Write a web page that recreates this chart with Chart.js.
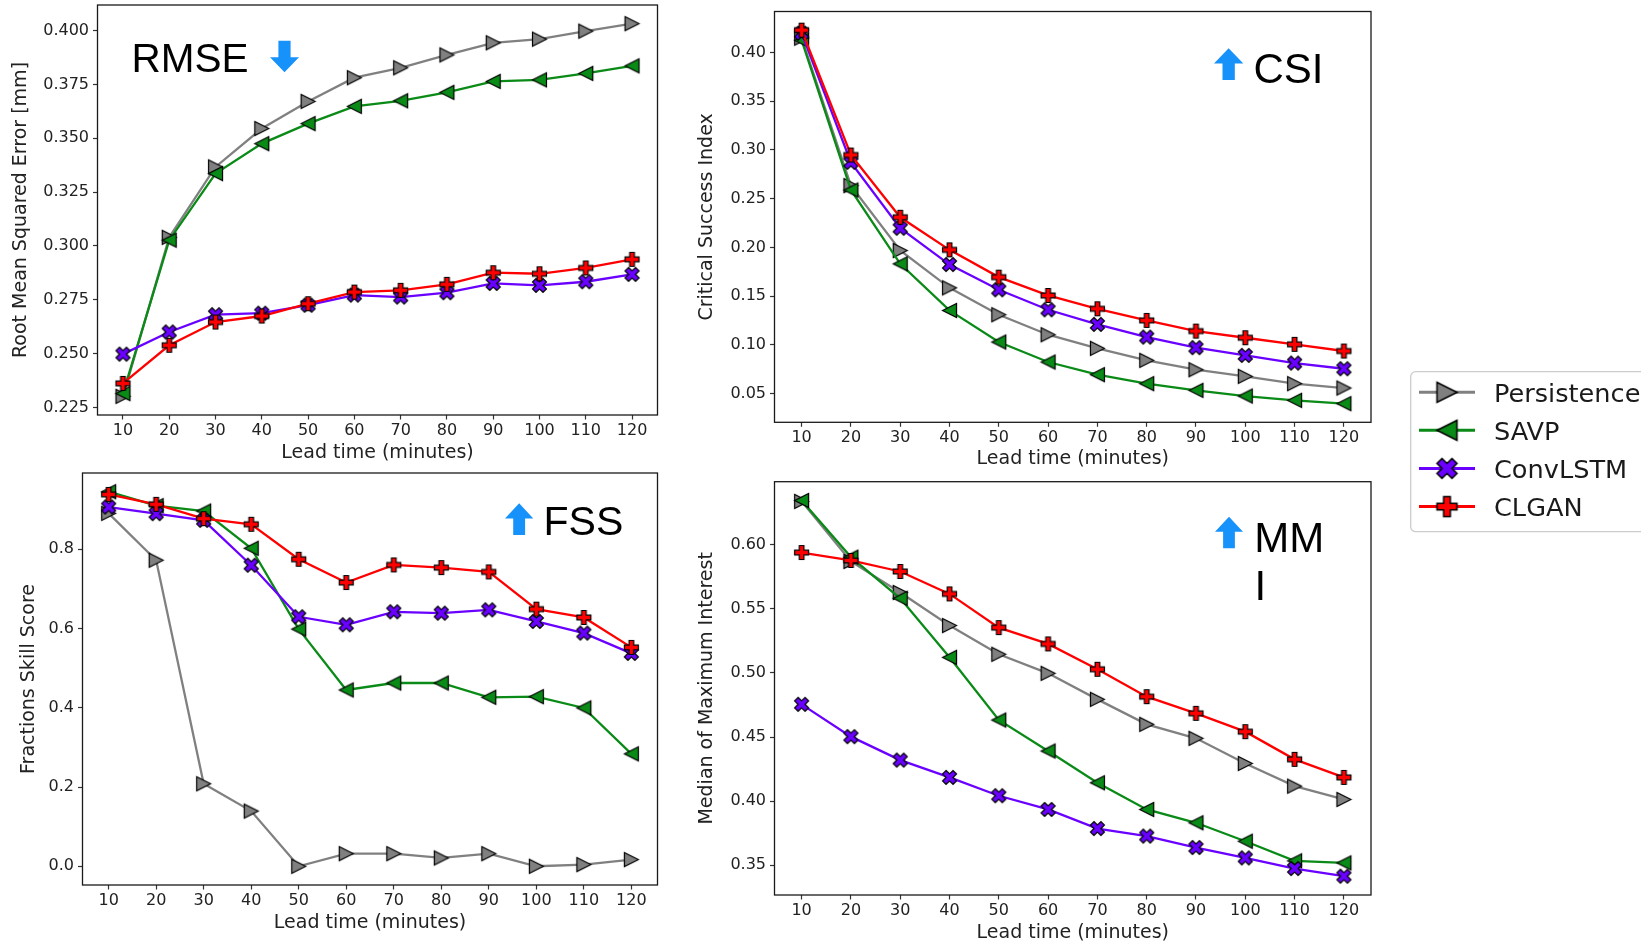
<!DOCTYPE html>
<html>
<head>
<meta charset="utf-8">
<script src="https://cdn.jsdelivr.net/npm/chart.js@4.4.1/dist/chart.umd.min.js"></script>
<style>
  html, body { margin: 0; padding: 0; background: #fff; width: 1641px; height: 946px; overflow: hidden; }
  canvas { position: absolute; }
</style>
</head>
<body>
<canvas id="rmse"></canvas>
<canvas id="csi"></canvas>
<canvas id="fss"></canvas>
<canvas id="mmi"></canvas>
<canvas id="legend"></canvas>
<script>
// ---- data ---------------------------------------------------------------
const leadTimes = [10, 20, 30, 40, 50, 60, 70, 80, 90, 100, 110, 120];
const modelNames = ['Persistence', 'SAVP', 'ConvLSTM', 'CLGAN'];

const rmsePersistence = [0.2302, 0.3040, 0.3367, 0.3545, 0.3671, 0.3781, 0.3827, 0.3887, 0.3943, 0.3960, 0.3997, 0.4032];
const rmseSAVP        = [0.2315, 0.3027, 0.3336, 0.3475, 0.3568, 0.3648, 0.3674, 0.3713, 0.3764, 0.3771, 0.3801, 0.3836];
const rmseConvLSTM    = [0.2498, 0.2601, 0.2681, 0.2688, 0.2725, 0.2772, 0.2763, 0.2783, 0.2826, 0.2817, 0.2834, 0.2868];
const rmseCLGAN       = [0.2362, 0.2539, 0.2647, 0.2675, 0.2732, 0.2786, 0.2794, 0.2822, 0.2876, 0.2871, 0.2898, 0.2938];

const csiPersistence = [0.4147, 0.2634, 0.1968, 0.1585, 0.1309, 0.1104, 0.0964, 0.0841, 0.0745, 0.0677, 0.0602, 0.0557];
const csiSAVP        = [0.4126, 0.2589, 0.1831, 0.1353, 0.1029, 0.0824, 0.0694, 0.0602, 0.0533, 0.0475, 0.0431, 0.0397];
const csiConvLSTM    = [0.4198, 0.2873, 0.2197, 0.1824, 0.1565, 0.1360, 0.1210, 0.1080, 0.0971, 0.0892, 0.0813, 0.0755];
const csiCLGAN       = [0.4229, 0.2948, 0.2309, 0.1975, 0.1695, 0.1507, 0.1370, 0.1251, 0.1141, 0.1073, 0.1005, 0.0937];

const fssPersistence = [0.8907, 0.7723, 0.2082, 0.1393, 0.0000, 0.0319, 0.0319, 0.0210, 0.0319, 0.0000, 0.0042, 0.0168];
const fssSAVP        = [0.9452, 0.9100, 0.8965, 0.8025, 0.5985, 0.4449, 0.4625, 0.4625, 0.4264, 0.4281, 0.3996, 0.2837];
const fssConvLSTM    = [0.9066, 0.8898, 0.8730, 0.7597, 0.6296, 0.6094, 0.6422, 0.6388, 0.6472, 0.6178, 0.5885, 0.5372];
const fssCLGAN       = [0.9385, 0.9133, 0.8772, 0.8630, 0.7748, 0.7161, 0.7605, 0.7538, 0.7429, 0.6489, 0.6279, 0.5524];

const mmiPersistence = [0.6339, 0.5870, 0.5628, 0.5370, 0.5146, 0.4997, 0.4794, 0.4599, 0.4490, 0.4294, 0.4117, 0.4013];
const mmiSAVP        = [0.6346, 0.5904, 0.5583, 0.5122, 0.4633, 0.4391, 0.4143, 0.3935, 0.3831, 0.3687, 0.3534, 0.3518];
const mmiConvLSTM    = [0.4755, 0.4503, 0.4320, 0.4185, 0.4042, 0.3935, 0.3786, 0.3727, 0.3638, 0.3557, 0.3474, 0.3414];
const mmiCLGAN       = [0.5940, 0.5878, 0.5792, 0.5617, 0.5354, 0.5227, 0.5029, 0.4815, 0.4685, 0.4542, 0.4326, 0.4185];

const rmseTicks = [0.225, 0.250, 0.275, 0.300, 0.325, 0.350, 0.375, 0.400];
const csiTicks  = [0.05, 0.10, 0.15, 0.20, 0.25, 0.30, 0.35, 0.40];
const fssTicks  = [0.0, 0.2, 0.4, 0.6, 0.8];
const mmiTicks  = [0.35, 0.40, 0.45, 0.50, 0.55, 0.60];

const xAxisTitle = 'Lead time (minutes)';

// ---- styling ------------------------------------------------------------
const axisFont = "'DejaVu Sans', 'Liberation Sans', sans-serif";
const noteFont = "'Liberation Sans', Arial, sans-serif";
const arrowBlue = '#1892fb';

const modelStyle = {
  Persistence: { color: '#808080', shape: 'tri-right' },
  SAVP:        { color: '#0a8a16', shape: 'tri-left' },
  ConvLSTM:    { color: '#6a00ff', shape: 'x' },
  CLGAN:       { color: '#ff0000', shape: 'plus' }
};

// filled marker outlines (unit size), modelled on the usual plotting markers
function markerPoints(shape) {
  switch (shape) {
    case 'tri-right': return [[0.5, 0], [-0.5, 0.5], [-0.5, -0.5]];
    case 'tri-left':  return [[-0.5, 0], [0.5, -0.5], [0.5, 0.5]];
    case 'x': return [[-1,-2],[0,-1],[1,-2],[2,-1],[1,0],[2,1],[1,2],[0,1],[-1,2],[-2,1],[-1,0],[-2,-1]]
                 .map(([a, b]) => [a / 4, b / 4]);
    case 'plus': return [[-1,-3],[1,-3],[1,-1],[3,-1],[3,1],[1,1],[1,3],[-1,3],[-1,1],[-3,1],[-3,-1],[-1,-1]]
                 .map(([a, b]) => [a / 6, b / 6]);
  }
}

function makeMarker(shape, size, fill, edge) {
  const dim = Math.ceil(size + 2 * edge + 4);
  const c = document.createElement('canvas');
  c.width = dim; c.height = dim;
  const g = c.getContext('2d');
  g.translate(dim / 2, dim / 2);
  g.beginPath();
  markerPoints(shape).forEach(([a, b], i) => i ? g.lineTo(a * size, b * size) : g.moveTo(a * size, b * size));
  g.closePath();
  g.fillStyle = fill;
  g.fill();
  g.lineWidth = edge;
  g.lineJoin = 'miter';
  g.strokeStyle = '#000';
  g.stroke();
  return c;
}

const plotMarkers = {}, legendMarkers = {};
modelNames.forEach(m => {
  plotMarkers[m] = makeMarker(modelStyle[m].shape, 14, modelStyle[m].color, 1.2);
  legendMarkers[m] = makeMarker(modelStyle[m].shape, 20, modelStyle[m].color, 1.5);
});

function drawArrow(ctx, x, y, w, h, dir) {
  const cx = x + w / 2, sw = w * 0.42, hh = h * 0.48;
  ctx.beginPath();
  if (dir === 'up') {
    ctx.moveTo(cx, y); ctx.lineTo(x + w, y + hh); ctx.lineTo(cx + sw / 2, y + hh);
    ctx.lineTo(cx + sw / 2, y + h); ctx.lineTo(cx - sw / 2, y + h); ctx.lineTo(cx - sw / 2, y + hh);
    ctx.lineTo(x, y + hh);
  } else {
    ctx.moveTo(cx, y + h); ctx.lineTo(x + w, y + h - hh); ctx.lineTo(cx + sw / 2, y + h - hh);
    ctx.lineTo(cx + sw / 2, y); ctx.lineTo(cx - sw / 2, y); ctx.lineTo(cx - sw / 2, y + h - hh);
    ctx.lineTo(x, y + h - hh);
  }
  ctx.closePath();
  ctx.fillStyle = arrowBlue;
  ctx.fill();
}

// full box around the plotting area
const framePlugin = {
  id: 'frame',
  afterDatasetsDraw(chart) {
    const { ctx, chartArea: a } = chart;
    ctx.save();
    ctx.strokeStyle = '#1a1a1a';
    ctx.lineWidth = 1.3;
    ctx.strokeRect(a.left, a.top, a.right - a.left, a.bottom - a.top);
    ctx.restore();
  }
};

// metric name with its "better" arrow, placed in page coordinates
function notePlugin(box, note) {
  return {
    id: 'note',
    afterDraw(chart) {
      const ctx = chart.ctx;
      ctx.save();
      ctx.translate(-box[0], -box[1]);
      drawArrow(ctx, note.arrow[0], note.arrow[1], note.arrow[2], note.arrow[3], note.dir);
      ctx.font = note.size + 'px ' + noteFont;
      ctx.fillStyle = '#000';
      ctx.textBaseline = 'alphabetic';
      ctx.textAlign = 'left';
      note.lines.forEach(l => ctx.fillText(l[0], l[1], l[2]));
      ctx.restore();
    }
  };
}

function autoRange(series) {
  const all = series.flat();
  const lo = Math.min(...all), hi = Math.max(...all);
  const m = 0.05 * (hi - lo);
  return [lo - m, hi + m];
}

Chart.defaults.font.family = axisFont;
Chart.defaults.color = '#222';

function buildPanel(p) {
  const cv = document.getElementById(p.id);
  const [bx, by, bw, bh] = p.box;
  cv.width = bw; cv.height = bh;
  cv.style.left = bx + 'px'; cv.style.top = by + 'px';

  const yWidth = p.area.left - bx;
  const xHeight = by + bh - p.area.bottom;
  const [ymin, ymax] = autoRange(p.series);
  const xSpan = leadTimes[leadTimes.length - 1] - leadTimes[0];

  const datasets = modelNames.map((m, k) => ({
    label: m,
    data: leadTimes.map((t, i) => ({ x: t, y: p.series[k][i] })),
    borderColor: modelStyle[m].color,
    backgroundColor: modelStyle[m].color,
    borderWidth: 2.3,
    pointStyle: plotMarkers[m],
    pointRadius: 7,
    tension: 0,
    clip: false,
    order: modelNames.length - k
  }));

  const tickGrid = {
    display: true, drawOnChartArea: false, drawTicks: true,
    tickLength: 4.5, tickWidth: 1.2, tickColor: '#333', color: '#333'
  };

  return new Chart(cv, {
    type: 'line',
    data: { datasets },
    options: {
      responsive: false,
      animation: false,
      devicePixelRatio: 1,
      layout: {
        autoPadding: false,
        padding: { left: 0, top: p.area.top - by, right: bx + bw - p.area.right, bottom: 0 }
      },
      plugins: { legend: { display: false }, tooltip: { enabled: false } },
      scales: {
        x: {
          type: 'linear',
          min: leadTimes[0] - 0.05 * xSpan,
          max: leadTimes[leadTimes.length - 1] + 0.05 * xSpan,
          border: { display: false },
          grid: tickGrid,
          ticks: { font: { size: 16 }, padding: 1.5, autoSkip: false, maxRotation: 0, callback: v => String(v) },
          afterBuildTicks: s => { s.ticks = leadTimes.map(v => ({ value: v })); },
          afterFit: s => { s.height = xHeight; s.paddingLeft = 0; s.paddingRight = 0; },
          title: { display: true, text: xAxisTitle, font: { size: 19 }, padding: { top: 0, bottom: p.xTitlePad } }
        },
        y: {
          type: 'linear',
          min: ymin, max: ymax,
          border: { display: false },
          grid: tickGrid,
          ticks: { font: { size: 16 }, padding: 4, autoSkip: false, callback: v => v.toFixed(p.decimals) },
          afterBuildTicks: s => { s.ticks = p.ticks.map(v => ({ value: v })); },
          afterFit: s => { s.width = yWidth; s.paddingTop = 0; s.paddingBottom = 0; },
          title: { display: true, text: p.yTitle, font: { size: 19 }, padding: { top: p.yTitlePad, bottom: 0 } }
        }
      }
    },
    plugins: [framePlugin, notePlugin(p.box, p.note)]
  });
}

const panels = [
  {
    id: 'rmse', box: [0, 0, 700, 470], area: { left: 97.5, top: 5, right: 657.5, bottom: 415 },
    series: [rmsePersistence, rmseSAVP, rmseConvLSTM, rmseCLGAN],
    ticks: rmseTicks, decimals: 3, yTitle: 'Root Mean Squared Error [mm]', yTitlePad: 9.9, xTitlePad: 5.7,
    note: { dir: 'down', arrow: [270, 40.7, 29, 31.6], size: 40.5, lines: [['RMSE', 131.5, 72]] }
  },
  {
    id: 'csi', box: [680, 0, 720, 480], area: { left: 774.5, top: 11.5, right: 1371, bottom: 422.3 },
    series: [csiPersistence, csiSAVP, csiConvLSTM, csiCLGAN],
    ticks: csiTicks, decimals: 2, yTitle: 'Critical Success Index', yTitlePad: 15.5, xTitlePad: 9.2,
    note: { dir: 'up', arrow: [1214, 48.3, 29.3, 31.7], size: 42, lines: [['CSI', 1253.5, 82.5]] }
  },
  {
    id: 'fss', box: [0, 470, 700, 476], area: { left: 82.5, top: 473, right: 657.5, bottom: 885 },
    series: [fssPersistence, fssSAVP, fssConvLSTM, fssCLGAN],
    ticks: fssTicks, decimals: 1, yTitle: 'Fractions Skill Score', yTitlePad: 17.8, xTitlePad: 12,
    note: { dir: 'up', arrow: [505, 503.3, 28.3, 31.7], size: 41, lines: [['FSS', 543.5, 534.6]] }
  },
  {
    id: 'mmi', box: [680, 470, 720, 476], area: { left: 774.5, top: 481.7, right: 1371, bottom: 895 },
    series: [mmiPersistence, mmiSAVP, mmiConvLSTM, mmiCLGAN],
    ticks: mmiTicks, decimals: 2, yTitle: 'Median of Maximum Interest', yTitlePad: 15.5, xTitlePad: 2,
    note: { dir: 'up', arrow: [1215, 516.7, 28, 31.6], size: 42, lines: [['MM', 1254.3, 552], ['I', 1254.4, 600.3]] }
  }
];

panels.forEach(buildPanel);

// ---- shared legend ------------------------------------------------------
(function drawLegend() {
  const cv = document.getElementById('legend');
  const ox = 1400, oy = 360;
  cv.width = 241; cv.height = 186;
  cv.style.left = ox + 'px'; cv.style.top = oy + 'px';
  const g = cv.getContext('2d');

  g.beginPath();
  g.roundRect(10.7, 11.7, 320, 160, 5);
  g.fillStyle = '#fff';
  g.fill();
  g.lineWidth = 1.3;
  g.strokeStyle = '#cccccc';
  g.stroke();

  const rowY = [32.3, 70.3, 108.4, 146.6];
  g.font = '25.6px ' + axisFont;
  g.textBaseline = 'alphabetic';
  g.textAlign = 'left';
  modelNames.forEach((m, i) => {
    const y = rowY[i];
    g.beginPath();
    g.moveTo(19, y); g.lineTo(75, y);
    g.lineWidth = 3;
    g.strokeStyle = modelStyle[m].color;
    g.stroke();
    const mk = legendMarkers[m];
    g.drawImage(mk, 47 - mk.width / 2, y - mk.height / 2);
    g.fillStyle = '#1a1a1a';
    g.fillText(m, 94, y + 9.3);
  });
})();
</script>
</body>
</html>
